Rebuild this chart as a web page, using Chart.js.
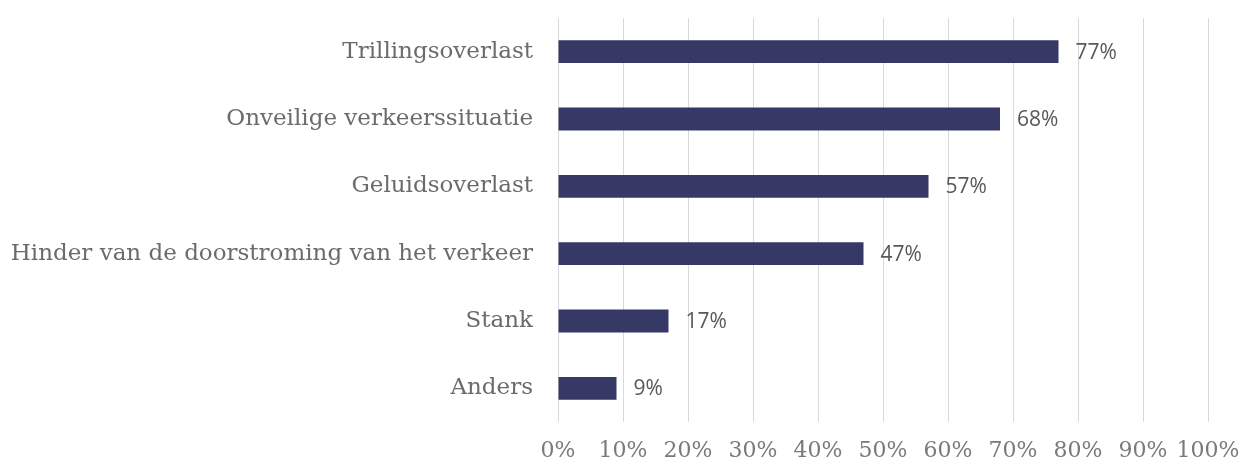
<!DOCTYPE html>
<html>
<head>
<meta charset="utf-8">
<script src="https://cdn.jsdelivr.net/npm/chart.js@4/dist/chart.umd.min.js"></script>
<style>
  html, body { margin: 0; padding: 0; background: #fff; }
  #wrap { width: 1242px; height: 465px; }
</style>
</head>
<body>
<div id="wrap"><canvas id="myChart"></canvas></div>
<script>
const categories = [
  'Trillingsoverlast',
  'Onveilige verkeerssituatie',
  'Geluidsoverlast',
  'Hinder van de doorstroming van het verkeer',
  'Stank',
  'Anders'
];
const percentages = [77, 68, 57, 47, 17, 9];
const xTicks = [0, 10, 20, 30, 40, 50, 60, 70, 80, 90, 100];

// draws "77%" etc. just right of each bar
const valueLabels = {
  id: 'valueLabels',
  afterDatasetsDraw(chart) {
    const ctx = chart.ctx;
    const meta = chart.getDatasetMeta(0);
    ctx.save();
    ctx.font = '21px "Open Sans", sans-serif';
    ctx.fillStyle = '#595959';
    ctx.textAlign = 'left';
    ctx.textBaseline = 'middle';
    meta.data.forEach(function(bar, i) {
      ctx.fillText(percentages[i] + '%', bar.x + 17, bar.y + 1);
    });
    ctx.restore();
  }
};

const ctx = document.getElementById('myChart').getContext('2d');
const barChart = new Chart(ctx, {
  type: 'bar',
  data: {
    labels: categories,
    datasets: [{
      data: percentages,
      backgroundColor: '#363966',
      borderWidth: 0,
      categoryPercentage: 1,
      barPercentage: 0.34
    }]
  },
  plugins: [valueLabels],
  options: {
    indexAxis: 'y',
    responsive: true,
    maintainAspectRatio: false,
    animation: false,
    layout: { padding: { top: 18, right: 34, left: 0, bottom: 0 } },
    plugins: {
      legend: { display: false },
      tooltip: { enabled: false }
    },
    scales: {
      x: {
        min: 0,
        max: 100,
        afterBuildTicks(scale) {
          scale.ticks = xTicks.map(v => ({ value: v }));
        },
        afterFit(scale) {
          scale.height = 43;
          scale.paddingLeft = 0;
          scale.paddingRight = 0;
        },
        grid: { color: '#d9d9d9', lineWidth: 1, drawTicks: false },
        border: { display: false },
        ticks: {
          padding: 16,
          color: '#7a7a7a',
          font: { family: '"DejaVu Serif", serif', size: 22 },
          maxRotation: 0,
          autoSkip: false,
          callback: v => v + '%'
        }
      },
      y: {
        afterFit(scale) {
          scale.width = 558;
          scale.paddingTop = 0;
          scale.paddingBottom = 0;
        },
        grid: { display: false, drawTicks: false },
        border: { display: false },
        ticks: {
          padding: 25,
          color: '#6b6b6b',
          font: { family: '"DejaVu Serif", serif', size: 23 }
        }
      }
    }
  }
});
</script>
</body>
</html>
